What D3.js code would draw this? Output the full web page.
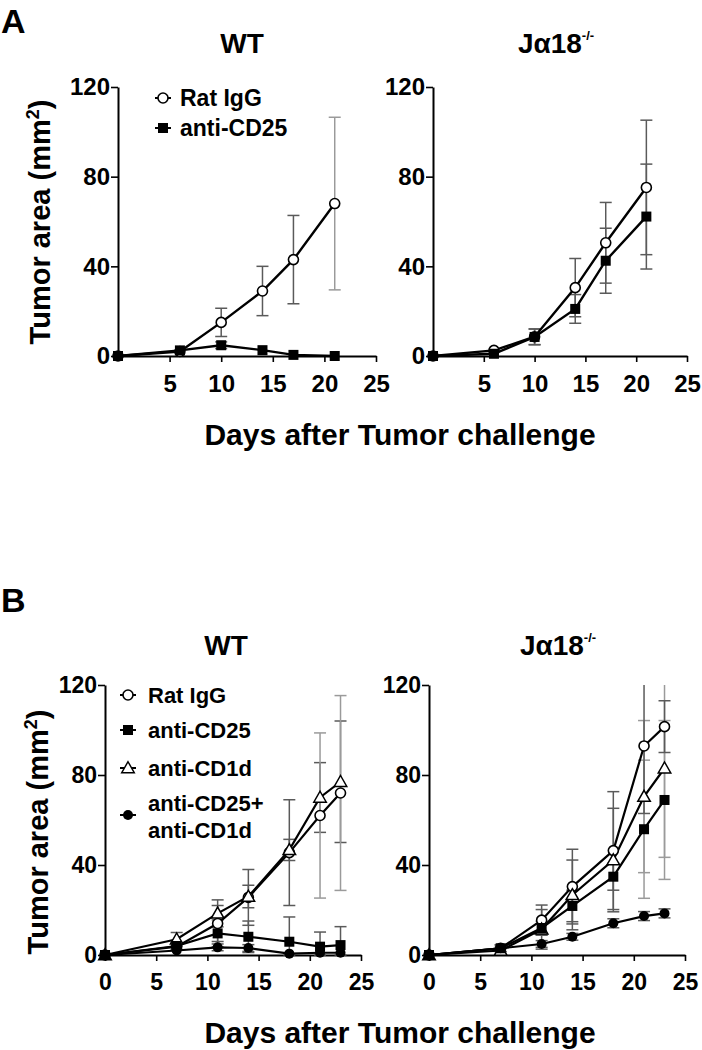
<!DOCTYPE html>
<html>
<head>
<meta charset="utf-8">
<script src="https://cdn.jsdelivr.net/npm/d3@7"></script>
<style>
  body { margin: 0; background: #fff; }
  svg { display: block; }
  text { font-family: "Liberation Sans", Arial, sans-serif; font-weight: bold; fill: #000; }
</style>
</head>
<body>
<svg id="chart"></svg>
<script>
// ---- data (mean and SD, mm^2) ----
const daysA = [0, 6, 10, 14, 17, 21];
const aWtRatIgG = [0, 2, 15, 29, 43, 68];
const aWtRatIgGSd = [0, 1, 6.3, 11, 19.7, 38.5];
const aWtCD25 = [0, 2.5, 4.8, 2.6, 0.5, 0];
const aWtCD25Sd = [0, 0.5, 1.5, 1, 0.5, 0.3];
const aJaRatIgG = [0, 2.5, 8.6, 30.5, 50.5, 75.2];
const aJaRatIgGSd = [0, 1, 3.5, 13, 18, 30];
const aJaCD25 = [0, 1, 8.5, 21, 42.5, 62.2];
const aJaCD25Sd = [0, 0.5, 3.5, 6.4, 14.5, 23.4];

const daysB = [0, 7, 11, 14, 18, 21, 23];
const bWtRatIgG = [0, 3.7, 14, 25.6, 45.5, 62, 72];
const bWtRatIgGSd = [0, 1.5, 8, 12.4, 23.5, 36.7, 43.3];
const bWtCD25 = [0, 4, 9.6, 8.1, 5.9, 3.7, 4.4];
const bWtCD25Sd = [0, 1.5, 6, 7, 11, 6.5, 8.2];
const bWtCD1d = [0, 7, 18.5, 26, 46.7, 70, 77];
const bWtCD1dSd = [0, 3, 6, 5, 4.7, 15.5, 27];
const bWtCombo = [0, 2, 3.4, 3.1, 0.6, 1, 1];
const bWtComboSd = [0, 1, 1.5, 1.5, 1, 1, 1];
const bJaRatIgG = [0, 3, 15.5, 30.4, 46.4, 92.9, 101.5];
const bJaRatIgGSd = [0, 1.5, 6.7, 16.6, 26.2, 30, 11.5];
const bJaCD25 = [0, 3, 12, 21.8, 34.8, 55.9, 68.9];
const bJaCD25Sd = [0, 1.5, 3, 7, 6, 30.7, 35.3];
const bJaCD1d = [0, 2, 11.4, 26.7, 42.2, 70.4, 83];
const bJaCD1dSd = [0, 1.5, 8.8, 15.5, 23, 33.8, 39.6];
const bJaCombo = [0, 3, 4.9, 8.1, 14.1, 17.3, 18.5];
const bJaComboSd = [0, 1, 1.5, 1.5, 2, 2, 2];

const yTicks = [0, 40, 80, 120];
const xTicksA = [5, 10, 15, 20, 25];
const xTicksB = [0, 5, 10, 15, 20, 25];
const groupsA = ['Rat IgG', 'anti-CD25'];
const groupsB = ['Rat IgG', 'anti-CD25', 'anti-CD1d', 'anti-CD25+anti-CD1d'];
const legendLinesB = [['Rat IgG'], ['anti-CD25'], ['anti-CD1d'], ['anti-CD25+', 'anti-CD1d']];
const panelLetters = ['A', 'B'];
const strains = ['WT', 'Jα18'];
const xTitle = 'Days after Tumor challenge';

const W = 702, H = 1050;
const svg = d3.select('#chart').attr('width', W).attr('height', H);

// marker per group
function drawMarker(g, group, cx, cy, r) {
  if (group === 'Rat IgG') {
    g.append('circle').attr('cx', cx).attr('cy', cy).attr('r', r)
      .attr('fill', '#fff').attr('stroke', '#000').attr('stroke-width', 1.6);
  } else if (group === 'anti-CD25') {
    g.append('rect').attr('x', cx - r).attr('y', cy - r).attr('width', 2 * r).attr('height', 2 * r)
      .attr('fill', '#000');
  } else if (group === 'anti-CD1d') {
    const s = r * 1.25;
    g.append('path')
      .attr('d', `M${cx},${cy - s}L${cx + s},${cy + s * 0.75}L${cx - s},${cy + s * 0.75}Z`)
      .attr('fill', '#fff').attr('stroke', '#000').attr('stroke-width', 1.5);
  } else {
    g.append('circle').attr('cx', cx).attr('cy', cy).attr('r', r).attr('fill', '#000');
  }
}

function drawPanel(o) {
  const x = d3.scaleLinear().domain([0, 25]).range([o.left, o.right]);
  const y = d3.scaleLinear().domain([0, 120]).range([o.bottom, o.top]);
  const g = svg.append('g');

  // axes
  const yAxis = g.append('g').attr('transform', `translate(${o.left},0)`)
    .call(d3.axisLeft(y).tickValues(yTicks).tickSize(7).tickSizeOuter(0).tickPadding(1));
  const xAxis = g.append('g').attr('transform', `translate(0,${o.bottom})`)
    .call(d3.axisBottom(x).tickValues(o.xTicks).tickSize(6).tickSizeOuter(0).tickPadding(13));
  [yAxis, xAxis].forEach(a => {
    a.select('.domain').attr('stroke', '#000').attr('stroke-width', 2);
    a.selectAll('.tick line').attr('stroke', '#000').attr('stroke-width', 1.6);
    a.selectAll('.tick text').attr('font-size', o.tickFont).attr('fill', '#000')
      .style('font-family', '"Liberation Sans", Arial, sans-serif').style('font-weight', 'bold');
  });

  // error bars
  const eb = g.append('g');
  o.series.forEach(s => {
    s.mean.forEach((m, i) => {
      const sd = s.sd[i];
      if (sd < 1.2) return;
      const hi = Math.min(m + sd, 120), lo = Math.max(m - sd, 0);
      const cx = x(o.days[i]);
      const col = sd > 30 ? '#9a9a9a' : '#5a5a5a';
      eb.append('line').attr('x1', cx).attr('x2', cx).attr('y1', y(hi)).attr('y2', y(lo))
        .attr('stroke', col).attr('stroke-width', 1.5);
      if (m + sd <= 120) {
        eb.append('line').attr('x1', cx - 6).attr('x2', cx + 6).attr('y1', y(m + sd)).attr('y2', y(m + sd))
          .attr('stroke', col).attr('stroke-width', 1.5);
      }
      eb.append('line').attr('x1', cx - 6).attr('x2', cx + 6).attr('y1', y(lo)).attr('y2', y(lo))
        .attr('stroke', col).attr('stroke-width', 1.5);
    });
  });

  // lines
  const line = d3.line().x((d, i) => x(o.days[i])).y(d => y(d));
  o.series.forEach(s => {
    g.append('path').datum(s.mean).attr('d', line)
      .attr('fill', 'none').attr('stroke', '#000').attr('stroke-width', o.lineW);
  });
  // markers
  o.series.slice().reverse().forEach(s => {
    s.mean.forEach((m, i) => drawMarker(g, s.group, x(o.days[i]), y(m), o.r));
  });

  // title
  const t = g.append('text').attr('x', o.titleX).attr('y', o.titleY)
    .attr('text-anchor', 'middle').attr('font-size', 28);
  t.append('tspan').text(o.title);
  if (o.title !== 'WT') {
    t.append('tspan').attr('font-size', 13).attr('dy', -13).text('-/-');
  }

  // y label
  if (o.yLabelX) {
    const yl = g.append('text')
      .attr('transform', `translate(${o.yLabelX},${o.yLabelY}) rotate(-90)`)
      .attr('text-anchor', 'middle').attr('font-size', 29);
    yl.append('tspan').text('Tumor area (mm');
    yl.append('tspan').attr('font-size', 18).attr('dy', -11).text('2');
    yl.append('tspan').attr('dy', 11).text(')');
  }

  // legend
  if (o.legend) {
    const lg = g.append('g');
    o.legend.rows.forEach((row, k) => {
      const grp = o.legend.groups[k];
      const my = row.markY;
      lg.append('line').attr('x1', o.legend.mx - 8).attr('x2', o.legend.mx + 8)
        .attr('y1', my).attr('y2', my).attr('stroke', '#000').attr('stroke-width', 2);
      drawMarker(lg, grp, o.legend.mx, my, o.r);
      o.legend.lines[k].forEach((txt, j) => {
        lg.append('text').attr('x', o.legend.tx).attr('y', row.textY[j])
          .attr('font-size', o.legend.font).text(txt);
      });
    });
  }
}

// panel letters
svg.append('text').attr('x', 1).attr('y', 33).attr('font-size', 34).text(panelLetters[0]);
svg.append('text').attr('x', 1).attr('y', 612).attr('font-size', 34).text(panelLetters[1]);

// Panel A
drawPanel({
  left: 118, right: 376, top: 87, bottom: 356, xTicks: xTicksA, days: daysA, tickFont: 24,
  lineW: 2.4, r: 5,
  series: [
    { group: groupsA[1], mean: aWtCD25, sd: aWtCD25Sd },
    { group: groupsA[0], mean: aWtRatIgG, sd: aWtRatIgGSd }
  ],
  title: strains[0], titleX: 242, titleY: 53,
  yLabelX: 50, yLabelY: 222,
  legend: {
    groups: groupsA, lines: [[groupsA[0]], [groupsA[1]]], mx: 163, tx: 180, font: 23,
    rows: [{ markY: 98, textY: [106] }, { markY: 128, textY: [136] }]
  }
});
drawPanel({
  left: 433, right: 687, top: 87, bottom: 356, xTicks: xTicksA, days: daysA, tickFont: 24,
  lineW: 2.4, r: 5,
  series: [
    { group: groupsA[1], mean: aJaCD25, sd: aJaCD25Sd },
    { group: groupsA[0], mean: aJaRatIgG, sd: aJaRatIgGSd }
  ],
  title: strains[1], titleX: 556, titleY: 53
});
svg.append('text').attr('x', 400).attr('y', 445).attr('text-anchor', 'middle')
  .attr('font-size', 30).text(xTitle);

// Panel B
drawPanel({
  left: 105, right: 361, top: 685, bottom: 955, xTicks: xTicksB, days: daysB, tickFont: 23,
  lineW: 2.2, r: 5,
  series: [
    { group: groupsB[3], mean: bWtCombo, sd: bWtComboSd },
    { group: groupsB[1], mean: bWtCD25, sd: bWtCD25Sd },
    { group: groupsB[2], mean: bWtCD1d, sd: bWtCD1dSd },
    { group: groupsB[0], mean: bWtRatIgG, sd: bWtRatIgGSd }
  ],
  title: strains[0], titleX: 226, titleY: 655,
  yLabelX: 48, yLabelY: 832,
  legend: {
    groups: groupsB, lines: legendLinesB, mx: 128, tx: 148, font: 22,
    rows: [
      { markY: 695, textY: [703] },
      { markY: 730, textY: [738] },
      { markY: 768, textY: [776] },
      { markY: 815, textY: [811, 838] }
    ]
  }
});
drawPanel({
  left: 429, right: 685, top: 685, bottom: 955, xTicks: xTicksB, days: daysB, tickFont: 23,
  lineW: 2.2, r: 5,
  series: [
    { group: groupsB[3], mean: bJaCombo, sd: bJaComboSd },
    { group: groupsB[1], mean: bJaCD25, sd: bJaCD25Sd },
    { group: groupsB[2], mean: bJaCD1d, sd: bJaCD1dSd },
    { group: groupsB[0], mean: bJaRatIgG, sd: bJaRatIgGSd }
  ],
  title: strains[1], titleX: 558, titleY: 655
});
svg.append('text').attr('x', 400).attr('y', 1043).attr('text-anchor', 'middle')
  .attr('font-size', 30).text(xTitle);
</script>
</body>
</html>
